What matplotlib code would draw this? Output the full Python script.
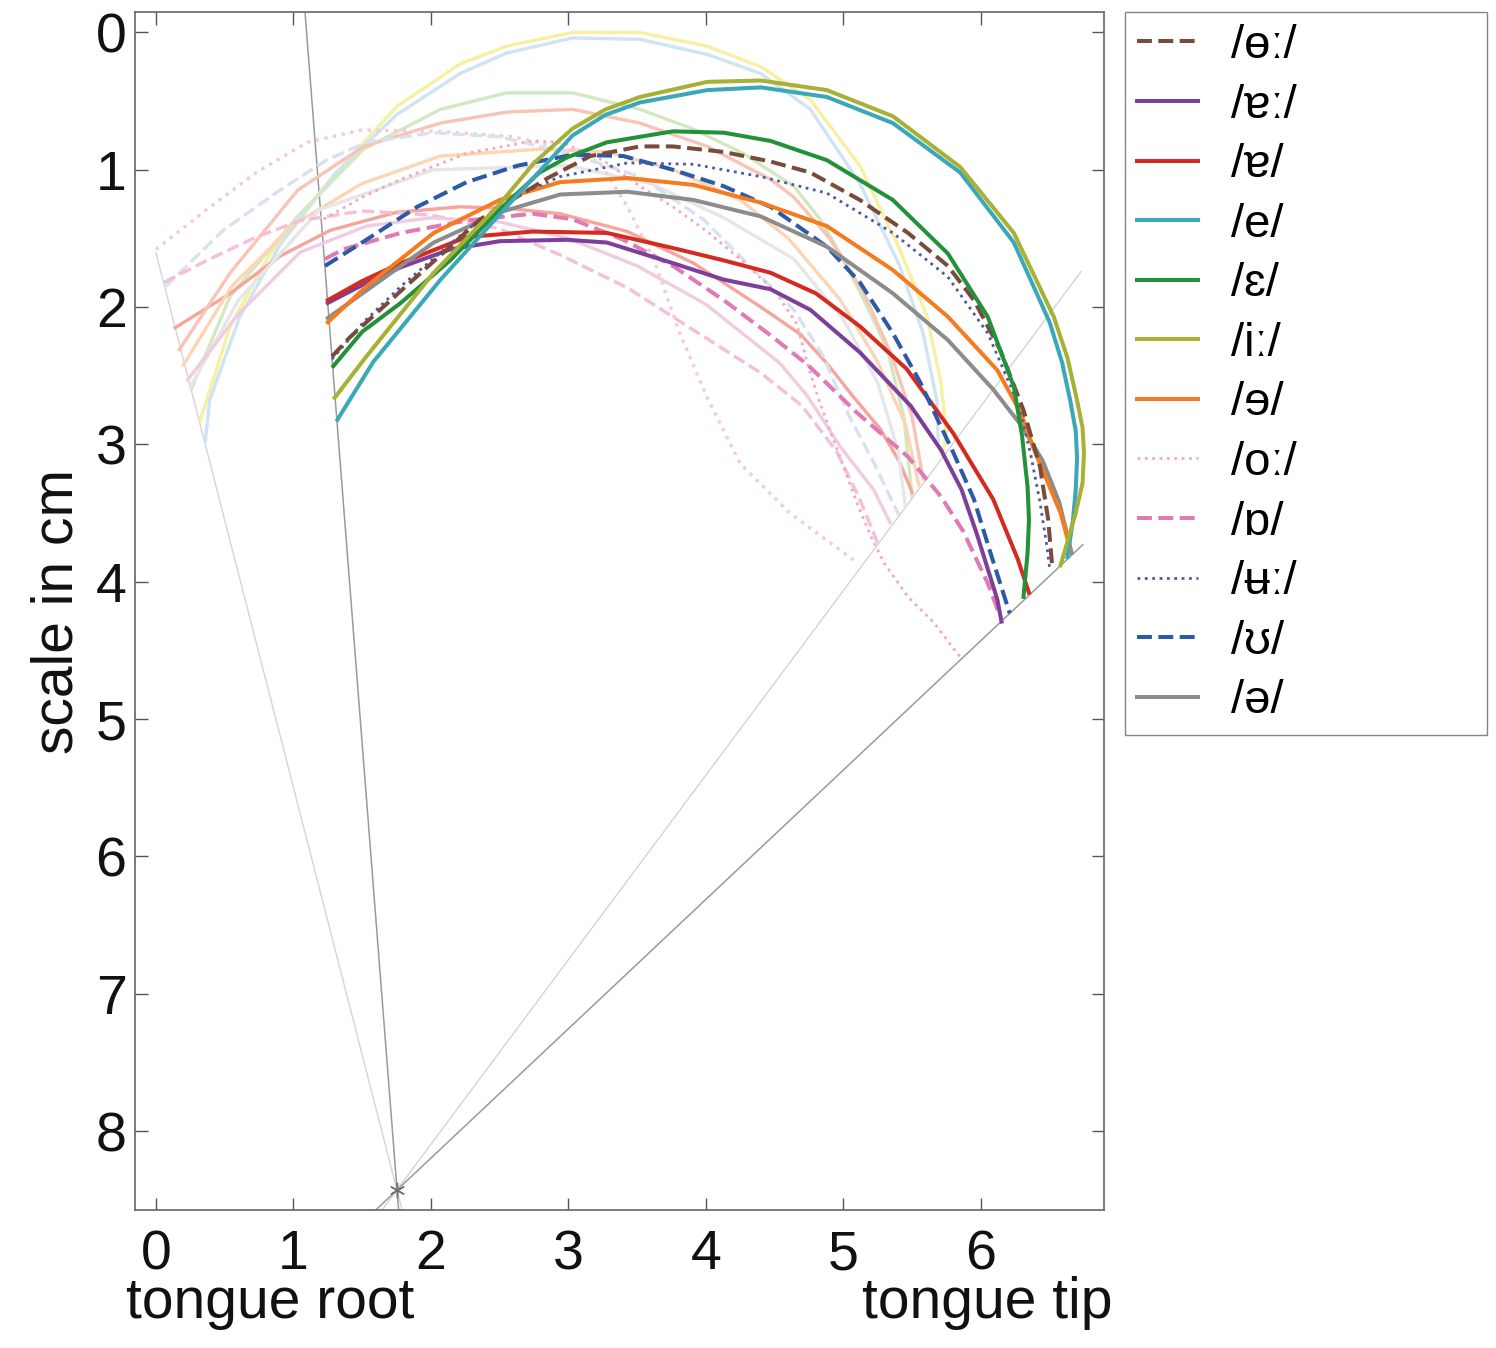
import numpy as np
import matplotlib
matplotlib.use("Agg")
import matplotlib.pyplot as plt

plt.rcParams['font.family'] = ['Liberation Sans', 'DejaVu Sans']

# ---- bright curves (one per vowel), cm ----
ou_x = [1.28, 1.41, 1.85, 2.36, 2.85, 3.16, 3.52, 3.76, 4.13, 4.47, 4.76, 5.12, 5.47, 5.76, 5.95, 6.14, 6.31, 6.43, 6.49, 6.52]
ou_y = [2.36, 2.22, 1.82, 1.36, 1.06, 0.90, 0.83, 0.83, 0.87, 0.94, 1.02, 1.22, 1.46, 1.70, 1.95, 2.31, 2.75, 3.16, 3.55, 3.90]

ea_x = [1.25, 1.50, 1.78, 2.14, 2.50, 2.99, 3.28, 3.76, 4.13, 4.47, 4.76, 5.12, 5.49, 5.71, 5.86, 5.97, 6.12, 6.15]
ea_y = [1.97, 1.84, 1.71, 1.58, 1.52, 1.51, 1.53, 1.68, 1.80, 1.87, 2.02, 2.33, 2.72, 3.04, 3.33, 3.65, 4.13, 4.29]

a_x = [1.25, 1.50, 1.78, 2.26, 2.74, 3.28, 3.76, 4.13, 4.47, 4.80, 5.12, 5.46, 5.80, 6.09, 6.27, 6.35]
a_y = [1.95, 1.81, 1.68, 1.49, 1.45, 1.46, 1.57, 1.66, 1.75, 1.90, 2.14, 2.45, 2.92, 3.40, 3.84, 4.08]

e_x = [1.32, 1.58, 2.07, 2.55, 2.80, 3.03, 3.27, 3.52, 4.01, 4.40, 4.88, 5.36, 5.85, 6.24, 6.50, 6.59, 6.65, 6.69, 6.70, 6.69, 6.67, 6.63]
e_y = [2.82, 2.40, 1.80, 1.27, 1.00, 0.75, 0.60, 0.51, 0.42, 0.40, 0.47, 0.66, 1.02, 1.53, 2.11, 2.40, 2.68, 2.90, 3.10, 3.33, 3.55, 3.82]

eps_x = [1.29, 1.50, 1.78, 2.14, 2.50, 2.79, 2.99, 3.28, 3.76, 4.13, 4.47, 4.88, 5.36, 5.76, 6.05, 6.24, 6.30, 6.34, 6.35, 6.34, 6.31]
eps_y = [2.43, 2.18, 1.97, 1.66, 1.29, 1.02, 0.91, 0.80, 0.72, 0.73, 0.79, 0.93, 1.22, 1.61, 2.07, 2.58, 2.94, 3.31, 3.55, 3.79, 4.11]

i_x = [1.30, 1.53, 2.02, 2.50, 2.75, 3.03, 3.27, 3.52, 4.01, 4.40, 4.88, 5.36, 5.85, 6.24, 6.53, 6.63, 6.70, 6.74, 6.75, 6.74, 6.69, 6.58]
i_y = [2.66, 2.36, 1.75, 1.25, 0.95, 0.70, 0.56, 0.47, 0.36, 0.35, 0.42, 0.61, 0.98, 1.46, 2.07, 2.37, 2.68, 2.88, 3.06, 3.28, 3.50, 3.88]

er_x = [1.25, 1.53, 2.02, 2.50, 2.94, 3.43, 3.91, 4.40, 4.88, 5.36, 5.76, 6.12, 6.29, 6.38, 6.48, 6.58, 6.65]
er_y = [2.11, 1.85, 1.46, 1.22, 1.09, 1.06, 1.11, 1.24, 1.41, 1.73, 2.07, 2.46, 2.77, 3.02, 3.26, 3.50, 3.76]

ol_x = [1.22, 1.50, 1.78, 2.26, 2.74, 2.95, 3.25, 3.52, 3.76, 4.01, 4.26, 4.50, 4.66, 4.75, 4.83, 4.93, 5.10, 5.20, 5.30, 5.47, 5.66, 5.85]
ol_y = [1.36, 1.20, 1.07, 0.88, 0.79, 0.80, 0.93, 1.12, 1.27, 1.45, 1.66, 1.88, 2.12, 2.45, 2.70, 2.97, 3.43, 3.67, 3.87, 4.11, 4.30, 4.55]

os_x = [1.23, 1.36, 1.78, 2.26, 2.74, 3.03, 3.40, 3.76, 4.13, 4.45, 4.74, 5.10, 5.47, 5.71, 5.87, 6.05, 6.14]
os_y = [1.65, 1.58, 1.46, 1.37, 1.32, 1.36, 1.51, 1.70, 1.95, 2.19, 2.42, 2.77, 3.09, 3.38, 3.63, 4.01, 4.25]

ub_x = [1.28, 1.50, 1.78, 2.26, 2.60, 2.94, 3.43, 3.91, 4.40, 4.88, 5.36, 5.76, 6.05, 6.27, 6.36, 6.43, 6.48, 6.50]
ub_y = [2.38, 2.12, 1.85, 1.44, 1.20, 1.05, 0.95, 0.96, 1.05, 1.17, 1.46, 1.78, 2.19, 2.70, 3.06, 3.42, 3.74, 3.90]

oo_x = [1.23, 1.53, 1.90, 2.26, 2.63, 3.03, 3.40, 3.76, 4.13, 4.47, 4.88, 5.12, 5.36, 5.56, 5.70, 5.80, 5.95, 6.07, 6.21]
oo_y = [1.70, 1.51, 1.27, 1.09, 0.97, 0.89, 0.90, 1.00, 1.12, 1.27, 1.56, 1.82, 2.19, 2.55, 2.85, 3.06, 3.40, 3.79, 4.23]

sc_x = [1.25, 1.53, 2.02, 2.50, 2.94, 3.43, 3.91, 4.40, 4.88, 5.36, 5.76, 6.09, 6.30, 6.45, 6.57, 6.66]
sc_y = [2.08, 1.88, 1.53, 1.31, 1.18, 1.16, 1.22, 1.34, 1.56, 1.90, 2.24, 2.60, 2.87, 3.12, 3.42, 3.79]

labels = ['/ɵː/', '/ɐː/', '/ɐ/', '/e/', '/ɛ/', '/iː/', '/ɘ/', '/oː/', '/ɒ/', '/ʉː/', '/ʊ/', '/ə/']
colors = ['#7a4a3a', '#7d3f98', '#d42a20', '#3aa8b8', '#23913a', '#a8b035',
          '#f47b20', '#f4a8c0', '#e07ab5', '#4a5aa8', '#2a5aa8', '#8c8c8c']
styles = ['--', '-', '-', '-', '-', '-', '-', ':', '--', ':', '--', '-']

# ---- faded curves (second set) ----
fi_x = [0.32, 0.54, 0.83, 1.27, 1.75, 2.21, 2.55, 3.03, 3.52, 4.01, 4.40, 4.76, 5.12, 5.41, 5.61, 5.71, 5.75, 5.72]
fi_y = [2.83, 2.14, 1.61, 1.07, 0.54, 0.23, 0.10, 0.00, 0.00, 0.10, 0.25, 0.49, 0.97, 1.58, 2.07, 2.55, 2.92, 3.08]

fe_x = [0.36, 0.39, 0.61, 0.90, 1.30, 1.75, 2.21, 2.55, 3.03, 3.52, 4.01, 4.40, 4.76, 5.12, 5.41, 5.58, 5.68, 5.69]
fe_y = [2.97, 2.68, 2.07, 1.55, 1.03, 0.60, 0.30, 0.15, 0.04, 0.05, 0.16, 0.30, 0.56, 1.10, 1.70, 2.19, 2.68, 2.98]

feps_x = [0.26, 0.54, 1.03, 1.51, 2.07, 2.55, 3.03, 3.52, 3.90, 4.27, 4.64, 4.83, 5.00, 5.15, 5.32, 5.44, 5.50]
feps_y = [2.59, 1.92, 1.34, 0.85, 0.56, 0.44, 0.44, 0.56, 0.70, 0.88, 1.12, 1.36, 1.65, 1.95, 2.31, 2.80, 3.38]

fa_x = [0.14, 0.54, 0.90, 1.27, 1.75, 2.21, 2.55, 2.94, 3.43, 3.91, 4.40, 4.69, 4.88, 5.07, 5.27, 5.41, 5.50]
fa_y = [2.15, 1.90, 1.63, 1.44, 1.31, 1.27, 1.28, 1.32, 1.45, 1.68, 2.00, 2.20, 2.41, 2.65, 2.89, 3.13, 3.35]

fer_x = [0.17, 0.54, 1.03, 1.51, 2.07, 2.55, 3.03, 3.52, 4.01, 4.47, 4.64, 4.90, 5.15, 5.35, 5.50, 5.58]
fer_y = [2.31, 1.75, 1.15, 0.83, 0.66, 0.58, 0.56, 0.66, 0.83, 1.07, 1.20, 1.50, 1.90, 2.35, 2.80, 3.25]

fpe_x = [0.20, 0.55, 1.00, 1.50, 2.07, 2.79, 3.28, 3.76, 4.25, 4.60, 4.98, 5.25, 5.45, 5.55]
fpe_y = [2.42, 1.85, 1.40, 1.10, 0.90, 0.85, 0.87, 1.00, 1.22, 1.50, 1.95, 2.40, 2.85, 3.30]

fsc_x = [0.25, 0.60, 1.19, 2.02, 3.00, 3.60, 4.15, 4.64, 5.00, 5.25, 5.40, 5.45]
fsc_y = [2.58, 1.95, 1.29, 1.00, 0.97, 1.10, 1.36, 1.65, 2.09, 2.55, 3.05, 3.45]

fol_x = [0.00, 0.37, 0.73, 1.10, 1.50, 2.07, 2.60, 3.00, 3.23, 3.43, 3.62, 3.81, 4.01, 4.25, 4.61, 5.10]
fol_y = [1.58, 1.29, 1.02, 0.80, 0.71, 0.72, 0.76, 0.85, 0.95, 1.27, 1.65, 2.19, 2.66, 3.14, 3.50, 3.86]

foo_x = [0.07, 0.49, 0.90, 1.24, 1.53, 2.02, 2.50, 3.00, 3.52, 3.98, 4.40, 4.64, 4.85, 5.03, 5.22, 5.41]
foo_y = [1.85, 1.44, 1.15, 0.93, 0.80, 0.73, 0.76, 0.88, 1.05, 1.36, 1.78, 2.02, 2.35, 2.77, 3.13, 3.53]

fos_x = [0.06, 0.37, 0.73, 1.05, 1.50, 2.00, 2.50, 2.94, 3.43, 3.93, 4.40, 4.70, 4.95, 5.12, 5.25]
fos_y = [1.82, 1.66, 1.49, 1.37, 1.30, 1.33, 1.43, 1.62, 1.86, 2.18, 2.48, 2.72, 3.05, 3.40, 3.72]

fea_x = [0.23, 0.60, 1.05, 1.53, 2.00, 2.50, 3.00, 3.50, 4.00, 4.54, 4.74, 4.98, 5.22, 5.34]
fea_y = [2.53, 2.05, 1.60, 1.41, 1.35, 1.38, 1.50, 1.70, 1.98, 2.41, 2.65, 3.02, 3.33, 3.57]

faded_colors = ['#f6f0a0', '#cfe4f2', '#d4e8c0', '#f5a59c', '#f9c3b5', '#fdd4b4',
                '#e6e6e6', '#f7c9d6', '#d6e2f0', '#f5bfd8', '#f0cce0']
faded_styles = ['-', '-', '-', '-', '-', '-', '-', ':', '--', '--', '-']

# ---- ultrasound fan ----
origin_x, origin_y = 1.752, 8.43
fan_dark_x = [[1.084, 1.765], [6.742, 1.599]]
fan_dark_y = [[-0.146, 8.575], [3.73, 8.575]]
fan_light_x = [[0.0, 1.79], [6.73, 1.644]]
fan_light_y = [[1.605, 8.575], [1.74, 8.575]]

fig = plt.figure(figsize=(14.96, 13.48), dpi=100)
ax = fig.add_axes([0.0902, 0.1024, 0.6477, 0.8884])

for xs, ys in zip(fan_light_x, fan_light_y):
    ax.plot(xs, ys, color='#d4d4d4', lw=1.0, zorder=1)
for xs, ys in zip(fan_dark_x, fan_dark_y):
    ax.plot(xs, ys, color='#9a9a9a', lw=1.1, zorder=1)
ax.plot([origin_x], [origin_y], marker=(6, 2, 0), color='#707070', ms=11, mew=1.0, zorder=2)

faded = [(fi_x, fi_y), (fe_x, fe_y), (feps_x, feps_y), (fa_x, fa_y), (fer_x, fer_y),
         (fpe_x, fpe_y), (fsc_x, fsc_y), (fol_x, fol_y), (foo_x, foo_y),
         (fos_x, fos_y), (fea_x, fea_y)]
for (xs, ys), c, ls in zip(faded, faded_colors, faded_styles):
    ax.plot(xs, ys, color=c, ls=ls, lw=2.4, zorder=3,
            solid_joinstyle='round', dash_joinstyle='round')

bright = [(ou_x, ou_y), (ea_x, ea_y), (a_x, a_y), (e_x, e_y), (eps_x, eps_y), (i_x, i_y),
          (er_x, er_y), (ol_x, ol_y), (os_x, os_y), (ub_x, ub_y), (oo_x, oo_y), (sc_x, sc_y)]
draw_order = [7, 8, 1, 2, 10, 11, 6, 9, 0, 4, 3, 5]
handles = [None] * 12
for k in draw_order:
    xs, ys = bright[k]
    lw = 2.0 if styles[k] == ':' else 2.9
    handles[k], = ax.plot(xs, ys, color=colors[k], ls=styles[k], lw=lw, zorder=4, label=labels[k],
                          solid_joinstyle='round', dash_joinstyle='round')

ax.set_xlim(-0.153, 6.895)
ax.set_ylim(8.575, -0.146)
ax.set_xticks(range(0, 7))
ax.set_yticks(range(0, 9))
ax.tick_params(direction='in', length=9, width=1.0, color='#555555', top=True, right=True,
               labelsize=40, colors='#555555', labelcolor='#111111')
ax.tick_params(axis='x', pad=14)
ax.tick_params(axis='y', pad=6)
for sp in ax.spines.values():
    sp.set_color('#666666')
    sp.set_linewidth(1.2)

ax.set_ylabel('scale in cm', fontsize=41, color='#111111')
ax.yaxis.set_label_coords(-0.052, 0.5)

fig.text(0.1805, 0.022, 'tongue root', fontsize=41, ha='center', va='baseline', color='#111111')
fig.text(0.66, 0.022, 'tongue tip', fontsize=41, ha='center', va='baseline', color='#111111')

leg = fig.legend(handles=handles, labels=labels, loc='upper left',
                 bbox_to_anchor=(0.752, 0.457, 0.242, 0.534), mode='expand',
                 bbox_transform=fig.transFigure, fontsize=34, frameon=True, fancybox=False,
                 handlelength=1.3, handletextpad=0.7, labelspacing=0.33, borderpad=0.25,
                 borderaxespad=0)
leg.get_frame().set_edgecolor('#666666')
leg.get_frame().set_linewidth(1.0)

fig.savefig('out.png', dpi=100)
